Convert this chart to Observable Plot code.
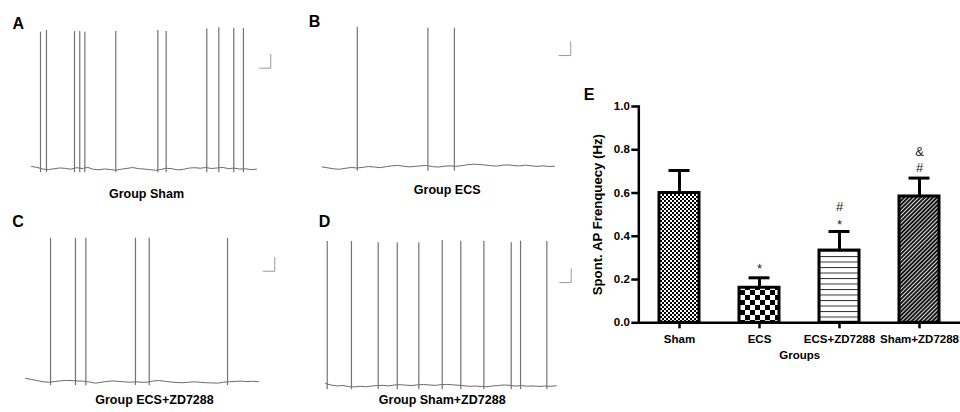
<!DOCTYPE html>
<html>
<head>
<meta charset="utf-8">
<script src="https://cdn.jsdelivr.net/npm/d3@7"></script>
<script src="https://cdn.jsdelivr.net/npm/@observablehq/plot@0.6"></script>
<style>
  html, body { margin: 0; padding: 0; background: #fff; }
  #fig { position: relative; width: 960px; height: 412px; overflow: hidden; font-family: "Liberation Sans", Arial, sans-serif; }
  #fig > svg { position: absolute; overflow: visible; }
</style>
</head>
<body>
<div id="fig"></div>
<script>
// ---------- DATA: spontaneous AP recordings (20 s traces) ----------
const traceDuration = 20; // s
const scaleBarSeconds = 1;
const scaleBarMillivolts = 10;

const spikesA = [0.8, 1.33, 3.82, 4.29, 4.74, 7.49, 11.23, 11.97, 15.58, 16.65, 17.98, 18.84];
const peaksA  = [38.8, 40.0, 39.3, 39.3, 38.8, 39.3, 40.0, 39.3, 41.2, 42.0, 41.7, 41.4];
const baselineA = [-58.5,-59.2,-60.4,-60.8,-60.2,-59.6,-59.9,-60.5,-59.4,-60.0,-59.2,-60.6,-60.9,-60.3,-60.8,-61.2,-60.5,-59.9,-59.3,-60.1,-60.4,-60.8,-61.3,-60.7,-59.8,-60.2,-61.0,-60.6,-59.7,-59.4,-59.8,-59.3,-60.0,-59.6,-59.2,-60.1,-59.7,-60.4,-60.2,-60.8,-60.5];

const spikesB = [3.02, 9.10, 11.38];
const peaksB  = [41.4, 40.7, 40.7];
const baselineB = [-59.8,-60.5,-61.2,-61.5,-60.8,-60.2,-60.6,-60.1,-59.5,-59.9,-60.3,-59.6,-59.0,-58.7,-59.3,-59.8,-59.4,-59.0,-58.8,-59.6,-59.9,-59.3,-59.0,-59.4,-58.9,-58.2,-57.8,-58.0,-58.4,-58.9,-59.2,-58.6,-58.3,-58.8,-59.1,-58.5,-59.0,-59.4,-59.0,-59.5,-59.3];

const spikesC = [2.15, 4.29, 5.18, 9.44, 10.62, 17.34];
const peaksC  = [43.8, 43.8, 43.8, 43.8, 43.8, 43.8];
const baselineC = [-57.7,-58.5,-59.3,-60.2,-60.5,-60.0,-59.5,-59.2,-59.4,-59.6,-59.8,-60.4,-61.2,-60.6,-59.9,-59.6,-59.9,-60.3,-60.5,-60.2,-60.6,-60.4,-59.6,-59.3,-59.9,-60.4,-60.7,-60.9,-60.5,-60.2,-60.6,-60.9,-61.0,-61.2,-60.5,-60.2,-59.9,-59.7,-60.1,-59.8,-60.1];

const spikesD = [0.15, 2.25, 4.57, 6.22, 8.09, 10.12, 11.73, 13.73, 16.10, 16.91, 19.19];
const peaksD  = [44.3, 44.3, 43.4, 43.4, 43.4, 45.1, 44.6, 44.3, 43.4, 44.6, 44.3];
const baselineD = [-58.6,-59.7,-60.3,-60.0,-60.8,-61.0,-60.6,-60.9,-60.4,-60.0,-59.9,-60.3,-59.6,-59.4,-59.8,-60.0,-59.5,-59.3,-59.6,-59.9,-59.4,-59.2,-59.5,-59.8,-60.2,-60.6,-60.4,-60.7,-60.9,-60.3,-60.0,-59.6,-59.9,-60.4,-60.1,-60.5,-60.3,-60.7,-60.4,-60.6,-60.2];

const traceTitles = ["Group Sham", "Group ECS", "Group ECS+ZD7288", "Group Sham+ZD7288"];
const panelLetters = ["A", "B", "C", "D", "E"];

// ---------- DATA: bar chart E ----------
const groups = ["Sham", "ECS", "ECS+ZD7288", "Sham+ZD7288"];
const means  = [0.600, 0.162, 0.334, 0.584];
const sems   = [0.104, 0.046, 0.088, 0.085];
const yTicks = [0, 0.2, 0.4, 0.6, 0.8, 1.0];
const annoGroups = ["ECS", "ECS+ZD7288", "ECS+ZD7288", "Sham+ZD7288", "Sham+ZD7288"];
const annoText   = ["*", "*", "#", "#", "&"];
const annoY      = [0.250, 0.452, 0.534, 0.715, 0.789];
const yLabel = "Spont. AP Frenquecy (Hz)";
const xLabel = "Groups";

// ---------- LAYOUT ----------
const FONT = "'Liberation Sans', Arial, sans-serif";
const fig = document.getElementById("fig");

const traces = [
  {spikes: spikesA, peaks: peaksA, base: baselineA, left: 0,   top: 0,   w: 290, h: 200, x0: 31,  x1: 256,   y0: 168,   sb: [20.27, 12.7], lx: 12,   ly: 16.7, tx: 146,   ty: 188.3},
  {spikes: spikesB, peaks: peaksB, base: baselineB, left: 290, top: 0,   w: 290, h: 200, x0: 31.7, x1: 264,  y0: 166.7, sb: [20.4, 20.9],  lx: 18.3, ly: 15,   tx: 156.7, ty: 185},
  {spikes: spikesC, peaks: peaksC, base: baselineC, left: 0,   top: 200, w: 290, h: 212, x0: 25,  x1: 258,   y0: 181,   sb: [20.4, 19.9],  lx: 11.7, ly: 15,   tx: 154,   ty: 195},
  {spikes: spikesD, peaks: peaksD, base: baselineD, left: 290, top: 200, w: 290, h: 212, x0: 35,  x1: 265.7, y0: 185,   sb: [20.3, 14.6],  lx: 28.3, ly: 15,   tx: 151.7, ty: 195}
];

traces.forEach((p, k) => {
  const baseRows = p.base.map((v, i) => ({t: i * traceDuration / (p.base.length - 1), v}));
  const spikeRows = p.spikes.map((t, i) => ({t, peak: p.peaks[i]}));
  const sbRows = [
    {t: p.sb[0], v: p.sb[1]},
    {t: p.sb[0] + scaleBarSeconds, v: p.sb[1]},
    {t: p.sb[0] + scaleBarSeconds, v: p.sb[1] + scaleBarMillivolts}
  ];
  const chart = Plot.plot({
    width: p.w, height: p.h,
    margin: 0,
    style: {fontFamily: FONT, background: "transparent", overflow: "visible"},
    x: {domain: [0, traceDuration], range: [p.x0, p.x1], axis: null},
    y: {domain: [-60, 40], range: [p.y0, p.y0 - 138], axis: null},
    marks: [
      Plot.line(baseRows, {x: "t", y: "v", stroke: "#6a6a6a", strokeWidth: 1}),
      Plot.ruleX(spikeRows, {x: "t", y1: -63, y2: "peak", stroke: "#737373", strokeWidth: 1.2}),
      Plot.line(sbRows, {x: "t", y: "v", stroke: "#9a9a9a", strokeWidth: 1}),
      Plot.text([panelLetters[k]], {frameAnchor: "top-left", text: d => d, dx: p.lx, dy: p.ly, lineAnchor: "top", textAnchor: "start", fontSize: 16, fontWeight: "bold", fill: "#000"}),
      Plot.text([traceTitles[k]], {frameAnchor: "top-left", text: d => d, dx: p.tx, dy: p.ty, lineAnchor: "top", textAnchor: "middle", fontSize: 12.5, fontWeight: "bold", fill: "#000"})
    ]
  });
  chart.style.left = p.left + "px";
  chart.style.top = p.top + "px";
  fig.appendChild(chart);
});

// ---------- BAR CHART E ----------
const rows = groups.map((g, i) => ({group: g, mean: means[i], top: means[i] + sems[i]}));
const annoRows = annoText.map((t, i) => ({group: annoGroups[i], text: t, y: annoY[i]}));

const patternDefs = () => {
  const ns = "http://www.w3.org/2000/svg";
  const defs = document.createElementNS(ns, "defs");
  defs.innerHTML = `
    <pattern id="patSham" patternUnits="userSpaceOnUse" width="4" height="4">
      <rect width="4" height="4" fill="#fff"/>
      <rect x="0" y="0" width="2" height="2" fill="#000"/>
      <rect x="2" y="2" width="2" height="2" fill="#000"/>
    </pattern>
    <pattern id="patECS" patternUnits="userSpaceOnUse" width="10" height="10">
      <rect width="10" height="10" fill="#fff"/>
      <rect x="0" y="0" width="5" height="5" fill="#000"/>
      <rect x="5" y="5" width="5" height="5" fill="#000"/>
    </pattern>
    <pattern id="patECSZD" patternUnits="userSpaceOnUse" width="10" height="5.5">
      <rect width="10" height="5.5" fill="#fff"/>
      <rect x="0" y="0" width="10" height="1" fill="#333"/>
    </pattern>
    <pattern id="patShamZD" patternUnits="userSpaceOnUse" width="2.9" height="10" patternTransform="rotate(45)">
      <rect width="2.9" height="10" fill="#111"/>
      <rect x="0" y="0" width="1" height="10" fill="#ddd"/>
    </pattern>`;
  return defs;
};
const patternIds = ["patSham", "patECS", "patECSZD", "patShamZD"];

const barChart = Plot.plot({
  width: 380, height: 290,
  marginLeft: 58.3, marginRight: 0, marginTop: 26, marginBottom: 47.7,
  style: {fontFamily: FONT, fontSize: "11.5px", fontWeight: "bold", color: "#000", background: "transparent", overflow: "visible"},
  x: {domain: groups, paddingInner: 0.503, paddingOuter: 0.248, label: null},
  y: {domain: [0, 1], label: null},
  marks: [
    patternDefs,
    ...rows.map((r, i) => Plot.barY([r], {x: "group", y: "mean", fill: `url(#${patternIds[i]})`, stroke: "#000", strokeWidth: 3})),
    Plot.ruleX(rows, {x: "group", y1: "mean", y2: "top", stroke: "#000", strokeWidth: 3}),
    Plot.tickY(rows, {x: "group", y: "top", stroke: "#000", strokeWidth: 3, insetLeft: 9.5, insetRight: 9.5}),
    Plot.axisY({ticks: yTicks, tickFormat: d3.format(".1f"), tickSize: 7, tickPadding: 2, strokeWidth: 2.5, fontSize: 11.5, fontWeight: "bold", label: null}),
    Plot.axisX({tickSize: 6, tickPadding: 6.5, strokeWidth: 2.5, fontSize: 11.5, fontWeight: "bold", label: null}),
    Plot.frame({anchor: "left", strokeWidth: 2.5}),
    Plot.ruleY([0], {strokeWidth: 2.5}),
    Plot.text(annoRows, {x: "group", y: "y", text: "text", fontSize: 13, fontWeight: "normal", fill: "#222"}),
    Plot.text([yLabel], {frameAnchor: "left", text: d => d, rotate: -90, textAnchor: "middle", dx: -41.5, fontSize: 13.2, fontWeight: "bold"}),
    Plot.text([xLabel], {frameAnchor: "bottom", text: d => d, dy: 28.4, lineAnchor: "top", fontSize: 11.5, fontWeight: "bold"}),
    Plot.text([panelLetters[4]], {frameAnchor: "top-left", text: d => d, dx: -55, dy: -17.7, lineAnchor: "top", textAnchor: "start", fontSize: 16, fontWeight: "bold"})
  ]
});
barChart.style.left = "580px";
barChart.style.top = "80px";
fig.appendChild(barChart);
</script>
</body>
</html>
